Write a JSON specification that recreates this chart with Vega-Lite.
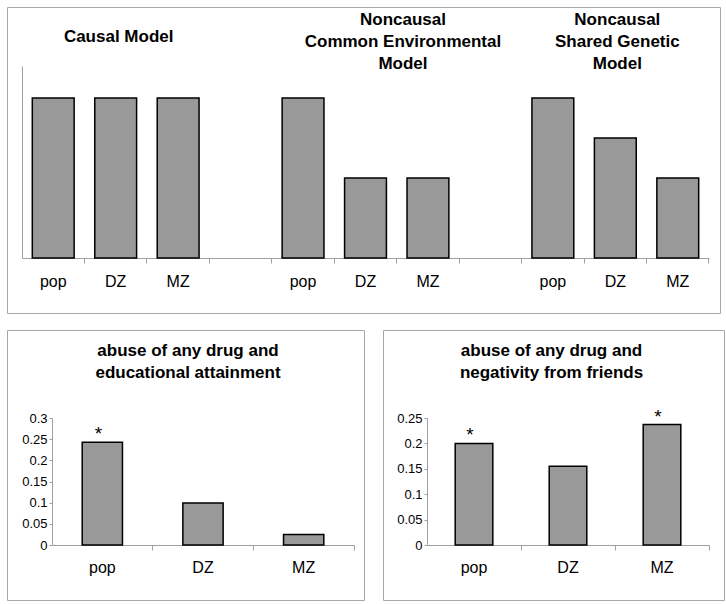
{
  "$schema": "https://vega.github.io/schema/vega-lite/v6.json",
  "background": "white",
  "padding": {"left": 6, "top": 6, "right": 0, "bottom": 0},
  "spacing": 15,
  "config": {
    "view": {"stroke": "#a8a8a8", "strokeWidth": 1},
    "font": "Liberation Sans",
    "axis": {"domainColor": "#a0a0a0", "tickColor": "#a0a0a0", "labelColor": "#000", "labelFont": "Liberation Sans", "grid": false, "title": null, "domainWidth": 1, "tickWidth": 1},
    "text": {"font": "Liberation Sans", "color": "#000"},
    "bar": {"fill": "#999999", "stroke": "#000", "strokeWidth": 1.5}
  },
  "vconcat": [
    {
      "width": 713,
      "height": 306,
      "layer": [
        {
          "data": {"values": [
            {"slot": "pop1", "v": 1}, {"slot": "DZ1", "v": 1}, {"slot": "MZ1", "v": 1},
            {"slot": "pop2", "v": 1}, {"slot": "DZ2", "v": 0.5}, {"slot": "MZ2", "v": 0.5},
            {"slot": "pop3", "v": 1}, {"slot": "DZ3", "v": 0.75}, {"slot": "MZ3", "v": 0.5}
          ]},
          "mark": {"type": "bar"},
          "encoding": {
            "x": {"field": "slot", "type": "nominal", "sort": null,
              "scale": {"domain": ["pop1", "DZ1", "MZ1", "_1", "pop2", "DZ2", "MZ2", "_2", "pop3", "DZ3", "MZ3"], "range": [15, 702], "paddingInner": 0.33, "paddingOuter": 0.165},
              "axis": {"offset": -55, "labelAngle": 0, "labelFontSize": 16, "tickSize": 5, "labelPadding": 10, "bandPosition": 1.246,
                "labelExpr": "indexof(datum.label, '_') == 0 ? '' : substring(datum.label, 0, length(datum.label) - 1)"}},
            "y": {"field": "v", "type": "quantitative",
              "scale": {"domain": [0, 1.2], "range": [251, 59], "nice": false, "zero": true},
              "axis": {"offset": -15, "labels": false, "ticks": false}}
          }
        },
        {
          "data": {"values": [{"slot": "DZ1", "t": "Causal Model"}]},
          "mark": {"type": "text", "fontSize": 17, "fontWeight": "bold", "baseline": "alphabetic", "dx": 3},
          "encoding": {
            "x": {"field": "slot", "type": "nominal"},
            "y": {"datum": 1.352, "type": "quantitative"},
            "text": {"field": "t"}
          }
        },
        {
          "data": {"values": [{"slot": "MZ2", "t": "Noncausal\nCommon Environmental\nModel"}]},
          "mark": {"type": "text", "fontSize": 17, "fontWeight": "bold", "baseline": "top", "lineBreak": "\n", "lineHeight": 22, "dx": -25},
          "encoding": {
            "x": {"field": "slot", "type": "nominal"},
            "y": {"datum": 1.539, "type": "quantitative"},
            "text": {"field": "t"}
          }
        },
        {
          "data": {"values": [{"slot": "DZ3", "t": "Noncausal\nShared Genetic\nModel"}]},
          "mark": {"type": "text", "fontSize": 17, "fontWeight": "bold", "baseline": "top", "lineBreak": "\n", "lineHeight": 22, "dx": 2},
          "encoding": {
            "x": {"field": "slot", "type": "nominal"},
            "y": {"datum": 1.539, "type": "quantitative"},
            "text": {"field": "t"}
          }
        }
      ]
    },
    {
      "spacing": 17,
      "hconcat": [
        {
          "width": 357,
          "height": 270,
          "data": {"values": [
            {"g": "pop", "v": 0.243, "s": "*"},
            {"g": "DZ", "v": 0.099, "s": ""},
            {"g": "MZ", "v": 0.025, "s": ""}
          ]},
          "layer": [
            {
              "mark": {"type": "bar"},
              "encoding": {
                "x": {"field": "g", "type": "nominal", "sort": null,
                  "scale": {"domain": ["pop", "DZ", "MZ"], "range": [45, 347], "paddingInner": 0.6, "paddingOuter": 0.3},
                  "axis": {"offset": -55, "labelAngle": 0, "labelFontSize": 16, "tickSize": 5, "labelPadding": 9, "bandPosition": 1.75}},
                "y": {"field": "v", "type": "quantitative",
                  "scale": {"domain": [0, 0.3], "range": [215, 88], "nice": false, "zero": true},
                  "axis": {"offset": -45, "values": [0, 0.05, 0.1, 0.15, 0.2, 0.25, 0.3], "format": ".2~f", "labelFontSize": 13, "tickSize": 3, "labelPadding": 2}}
              }
            },
            {
              "mark": {"type": "text", "fontSize": 19, "baseline": "alphabetic", "dy": -2, "dx": -4},
              "encoding": {
                "x": {"field": "g", "type": "nominal"},
                "y": {"field": "v", "type": "quantitative"},
                "text": {"field": "s"}
              }
            },
            {
              "data": {"values": [{"g": "DZ", "t": "abuse of any drug and\neducational attainment"}]},
              "mark": {"type": "text", "fontSize": 17, "fontWeight": "bold", "baseline": "top", "lineBreak": "\n", "lineHeight": 22.5, "dx": -15},
              "encoding": {
                "x": {"field": "g", "type": "nominal"},
                "y": {"datum": 0.4777, "type": "quantitative"},
                "text": {"field": "t"}
              }
            }
          ]
        },
        {
          "width": 341,
          "height": 270,
          "data": {"values": [
            {"g": "pop", "v": 0.2, "s": "*"},
            {"g": "DZ", "v": 0.155, "s": ""},
            {"g": "MZ", "v": 0.237, "s": "*"}
          ]},
          "layer": [
            {
              "mark": {"type": "bar"},
              "encoding": {
                "x": {"field": "g", "type": "nominal", "sort": null,
                  "scale": {"domain": ["pop", "DZ", "MZ"], "range": [44, 326], "paddingInner": 0.6, "paddingOuter": 0.3},
                  "axis": {"offset": -55, "labelAngle": 0, "labelFontSize": 16, "tickSize": 5, "labelPadding": 9, "bandPosition": 1.75}},
                "y": {"field": "v", "type": "quantitative",
                  "scale": {"domain": [0, 0.25], "range": [215, 88], "nice": false, "zero": true},
                  "axis": {"offset": -44, "values": [0, 0.05, 0.1, 0.15, 0.2, 0.25], "format": ".2~f", "labelFontSize": 13, "tickSize": 3, "labelPadding": 2}}
              }
            },
            {
              "mark": {"type": "text", "fontSize": 19, "baseline": "alphabetic", "dy": -2, "dx": -4},
              "encoding": {
                "x": {"field": "g", "type": "nominal"},
                "y": {"field": "v", "type": "quantitative"},
                "text": {"field": "s"}
              }
            },
            {
              "data": {"values": [{"g": "DZ", "t": "abuse of any drug and\nnegativity from friends"}]},
              "mark": {"type": "text", "fontSize": 17, "fontWeight": "bold", "baseline": "top", "lineBreak": "\n", "lineHeight": 22.5, "dx": -16.5},
              "encoding": {
                "x": {"field": "g", "type": "nominal"},
                "y": {"datum": 0.398, "type": "quantitative"},
                "text": {"field": "t"}
              }
            }
          ]
        }
      ]
    }
  ]
}
